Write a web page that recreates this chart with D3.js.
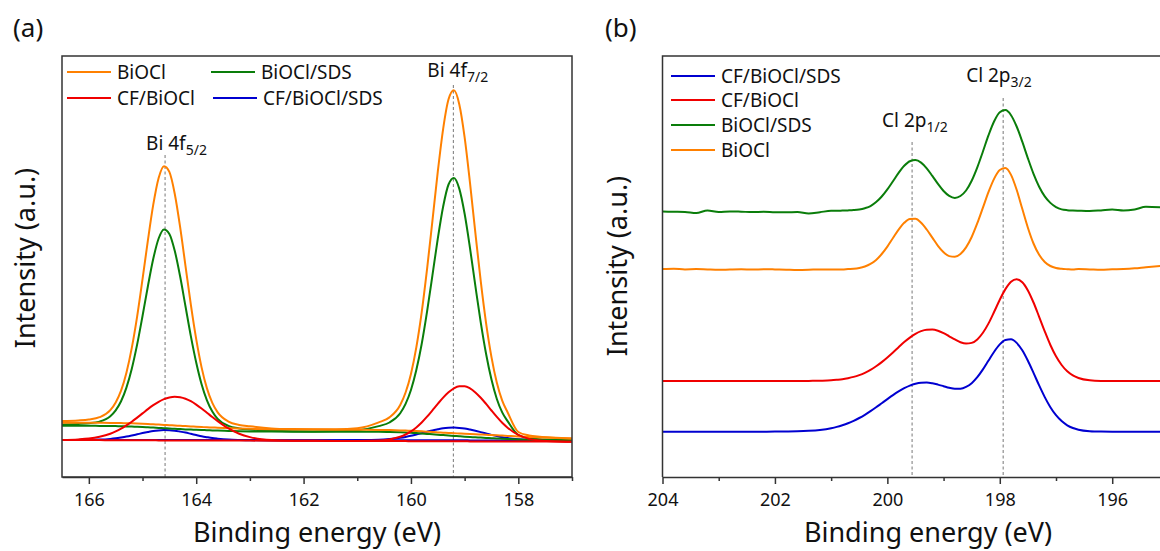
<!DOCTYPE html>
<html>
<meta charset="utf-8">
<head>
<script src="https://cdn.jsdelivr.net/npm/d3@7"></script>
<style>
  body { margin: 0; background: #fff; }
  text { font-family: "Noto Sans", "Open Sans", sans-serif; fill: #111; }
</style>
</head>
<body>
<div id="chart"></div>
<script>
// ---- panel (a): Bi 4f, binding energy grid (eV)
var energyA = [166.5, 166.2, 166.0, 165.8, 165.6, 165.5, 165.4, 165.3, 165.2, 165.1, 165.0, 164.9, 164.8, 164.7, 164.6,
  164.5, 164.4, 164.3, 164.2, 164.1, 164.0, 163.9, 163.8, 163.7, 163.6, 163.4, 163.2, 163.0, 162.6, 162.2, 161.8,
  161.4, 161.0, 160.6, 160.4, 160.2, 160.1, 160.0, 159.9, 159.8, 159.7, 159.6, 159.5, 159.4, 159.3, 159.2, 159.1,
  159.0, 158.9, 158.8, 158.7, 158.6, 158.5, 158.4, 158.3, 158.2, 158.0, 157.8, 157.6, 157.3, 157.0];

var bioclA = [56.0, 56.6, 57.5, 59.8, 66.8, 74.5, 86.3, 104.3, 129.1, 160.7, 197.8, 236.6, 272.3, 299.0, 310.8,
  305.1, 283.3, 250.1, 211.2, 172.3, 137.8, 109.6, 88.6, 74.1, 64.6, 55.4, 52.1, 50.7, 48.6, 47.9, 47.7,
  47.8, 48.8, 54.6, 59.6, 72.0, 84.5, 103.1, 129.7, 164.7, 207.9, 256.2, 305.3, 348.2, 377.7, 386.8, 372.8,
  339.6, 294.1, 244.1, 195.8, 153.7, 119.9, 94.2, 76.4, 64.8, 45.0, 41.5, 40.2, 39.3, 38.6];
var bioclBgA = [54.3, 54.3, 54.3, 54.2, 54.1, 54.0, 53.9, 53.8, 53.7, 53.5, 53.3, 53.0, 52.7, 52.4, 52.1,
  51.8, 51.5, 51.2, 50.9, 50.6, 50.3, 50.0, 49.7, 49.5, 49.3, 48.9, 48.5, 48.2, 47.8, 47.5, 47.4,
  47.3, 47.2, 47.1, 46.9, 46.6, 46.4, 46.2, 46.0, 45.7, 45.3, 44.9, 44.6, 44.3, 44.0, 43.8, 43.5,
  43.2, 43.0, 42.8, 42.5, 42.2, 42.0, 41.7, 41.4, 41.1, 40.5, 40.0, 39.5, 39.0, 38.5];

var bioclSdsA = [52.6, 53.1, 53.7, 55.4, 60.8, 66.6, 75.7, 89.4, 108.3, 132.6, 161.0, 190.8, 218.2, 238.5, 247.6,
  243.1, 226.3, 200.7, 170.8, 140.9, 114.5, 92.8, 76.7, 65.5, 58.1, 51.1, 48.6, 47.5, 46.2, 45.7, 45.6,
  45.9, 46.8, 50.9, 54.5, 63.8, 73.1, 87.0, 106.9, 133.0, 165.4, 201.6, 238.4, 270.5, 292.5, 299.1, 288.4,
  263.2, 228.9, 191.1, 154.7, 123.0, 97.4, 78.0, 64.6, 55.9, 42.0, 39.0, 37.8, 37.3, 37.1];
var bioclSdsBgA = [51.3, 51.3, 51.2, 51.1, 51.0, 50.9, 50.8, 50.6, 50.4, 50.2, 50.0, 49.7, 49.4, 49.1, 48.8,
  48.5, 48.2, 47.9, 47.6, 47.4, 47.2, 47.0, 46.8, 46.6, 46.4, 46.1, 45.8, 45.6, 45.4, 45.3, 45.3,
  45.3, 45.2, 45.2, 45.0, 44.7, 44.5, 44.2, 43.9, 43.5, 43.1, 42.7, 42.3, 41.9, 41.5, 41.1, 40.7,
  40.3, 40.0, 39.7, 39.4, 39.1, 38.8, 38.5, 38.3, 38.1, 37.6, 37.3, 37.1, 37.0, 37.0];

var cfBioclA = [37.1, 37.6, 38.4, 40.2, 43.3, 45.6, 48.4, 51.7, 55.3, 59.4, 63.6, 67.9, 71.8, 75.2, 77.9,
  79.6, 80.3, 79.8, 78.3, 75.8, 72.4, 68.5, 64.3, 60.0, 55.9, 48.6, 43.3, 39.9, 37.0, 36.3, 36.2,
  36.1, 36.0, 36.4, 37.6, 40.2, 42.5, 45.6, 49.6, 54.5, 60.3, 66.7, 73.2, 79.4, 84.7, 88.7, 90.7,
  90.7, 88.6, 84.6, 79.3, 73.1, 66.5, 60.1, 54.2, 49.3, 42.1, 38.1, 36.4, 35.5, 35.3];
var cfBioclBgA = [37.0, 36.9, 36.9, 36.9, 36.8, 36.8, 36.8, 36.8, 36.7, 36.7, 36.7, 36.7, 36.7, 36.6, 36.6,
  36.6, 36.6, 36.6, 36.6, 36.6, 36.5, 36.5, 36.5, 36.5, 36.5, 36.4, 36.4, 36.4, 36.3, 36.2, 36.2,
  36.1, 36.0, 35.9, 35.9, 35.9, 35.9, 35.8, 35.8, 35.8, 35.8, 35.8, 35.7, 35.7, 35.7, 35.7, 35.7,
  35.7, 35.6, 35.6, 35.6, 35.6, 35.6, 35.6, 35.5, 35.5, 35.5, 35.4, 35.4, 35.4, 35.3];

var cfBioclSdsA = [37.0, 37.1, 37.2, 37.4, 38.1, 38.7, 39.5, 40.4, 41.5, 42.7, 43.9, 45.0, 46.0, 46.6, 46.9,
  46.8, 46.3, 45.4, 44.4, 43.2, 42.0, 40.8, 39.8, 38.9, 38.3, 37.4, 37.0, 36.8, 36.8, 36.8, 36.8,
  36.8, 36.9, 37.2, 37.9, 39.2, 40.1, 41.2, 42.5, 43.8, 45.2, 46.6, 47.7, 48.7, 49.2, 49.4, 49.1,
  48.5, 47.4, 46.2, 44.9, 43.5, 42.1, 40.9, 39.8, 38.9, 37.7, 37.1, 36.8, 36.5, 36.5];
var cfBioclSdsBgA = [37.0, 37.0, 37.0, 37.0, 37.0, 37.0, 37.0, 37.0, 37.0, 37.0, 37.0, 36.9, 36.9, 36.9, 36.9,
  36.9, 36.9, 36.9, 36.9, 36.9, 36.9, 36.9, 36.9, 36.9, 36.9, 36.9, 36.9, 36.9, 36.8, 36.8, 36.8,
  36.8, 36.8, 36.7, 36.7, 36.7, 36.7, 36.7, 36.7, 36.7, 36.7, 36.7, 36.7, 36.7, 36.7, 36.7, 36.7,
  36.7, 36.6, 36.6, 36.6, 36.6, 36.6, 36.6, 36.6, 36.6, 36.6, 36.5, 36.5, 36.5, 36.5];

// ---- panel (b): Cl 2p, stacked spectra
var energyB = [204.0, 203.8, 203.6, 203.4, 203.2, 203.0, 202.8, 202.6, 202.4, 202.2, 202.0, 201.8, 201.6, 201.4, 201.2, 201.0,
  200.9, 200.8, 200.7, 200.6, 200.5, 200.4, 200.3, 200.2, 200.1, 200.0,
  199.9, 199.8, 199.7, 199.6, 199.5, 199.4, 199.3, 199.2, 199.1, 199.0,
  198.9, 198.8, 198.7, 198.6, 198.5, 198.4, 198.3, 198.2, 198.1, 198.0,
  197.9, 197.8, 197.7, 197.6, 197.5, 197.4, 197.3, 197.2, 197.1, 197.0,
  196.9, 196.8, 196.7, 196.6, 196.4, 196.2, 196.0, 195.8, 195.6, 195.4, 195.1];

var bioclSdsB = [265.4, 265.2, 265.0, 264.0, 266.6, 265.0, 265.6, 265.3, 264.9, 265.2, 264.8, 264.7, 265.0, 263.5, 264.8, 266.2,
  266.2, 266.4, 266.6, 266.9, 267.5, 268.8, 270.9, 274.9, 280.5, 287.6,
  295.8, 304.1, 311.2, 315.8, 316.9, 314.4, 308.7, 301.1, 293.1, 286.0,
  281.1, 279.1, 281.0, 286.5, 296.3, 309.7, 325.5, 341.8, 355.7, 364.7,
  366.9, 361.8, 350.5, 335.3, 318.7, 303.2, 290.3, 280.6, 274.1, 269.9,
  267.6, 266.8, 266.5, 266.3, 266.0, 266.6, 267.4, 266.4, 267.5, 270.2, 269.5];
var bioclB = [207.9, 208.3, 207.6, 207.9, 207.5, 207.2, 207.5, 207.7, 207.4, 207.8, 207.6, 207.3, 207.0, 207.2, 207.6, 207.4,
  207.6, 207.5, 207.9, 208.2, 209.0, 210.5, 213.1, 217.1, 223.0, 230.4,
  239.0, 247.4, 254.2, 258.1, 258.2, 254.3, 247.5, 239.4, 231.2, 224.8,
  220.9, 220.2, 223.0, 229.6, 240.0, 253.8, 269.4, 285.1, 298.4, 307.0,
  309.0, 302.1, 287.2, 268.2, 249.3, 233.5, 222.2, 215.0, 211.0, 209.0,
  208.2, 207.8, 207.5, 207.9, 207.6, 207.3, 207.7, 208.0, 208.7, 209.8, 211.2];
var cfBioclB = [96.0, 96.0, 96.0, 96.0, 96.0, 96.0, 96.0, 96.0, 96.0, 96.0, 96.0, 96.0, 96.0, 96.1, 96.3, 96.7,
  97.2, 97.8, 98.8, 100.1, 101.9, 104.2, 107.1, 110.7, 114.9, 119.6,
  124.6, 129.8, 134.9, 139.4, 143.2, 145.9, 147.3, 147.4, 146.2, 143.8,
  140.7, 137.6, 134.8, 133.4, 134.1, 137.6, 144.2, 153.6, 165.2, 177.3,
  187.9, 195.3, 197.8, 194.8, 186.6, 174.5, 160.2, 145.6, 132.0, 120.7,
  112.0, 105.7, 101.6, 99.0, 96.7, 96.1, 96.0, 96.0, 96.0, 96.0, 96.0];
var cfBioclSdsB = [45.3, 45.3, 45.3, 45.3, 45.3, 45.3, 45.3, 45.3, 45.3, 45.3, 45.4, 45.5, 45.7, 46.2, 47.1, 48.8,
  50.1, 51.8, 53.8, 56.2, 59.0, 62.2, 65.8, 69.7, 73.8, 77.9,
  81.9, 85.6, 88.8, 91.4, 93.2, 94.2, 94.4, 93.7, 92.4, 90.8,
  89.2, 88.2, 88.3, 90.1, 93.8, 99.8, 107.6, 116.5, 125.3, 132.6,
  137.1, 137.7, 134.1, 126.7, 116.2, 104.1, 91.6, 79.9, 69.8, 61.8,
  55.9, 51.7, 49.0, 47.3, 45.8, 45.4, 45.3, 45.3, 45.3, 45.3, 45.3];

var ticksA = [166, 164, 162, 160, 158];
var minorA = [165, 163, 161, 159, 157];
var ticksB = [204, 202, 200, 198, 196];
var minorB = [203, 201, 199, 197, 195];

var peakLinesA = [164.58, 159.21];
var peakLinesB = [199.56, 197.94];

var colors = { biocl: "#ff8000", bioclSds: "#0a7d0a", cfBiocl: "#f00000", cfBioclSds: "#0000d0" };

var svg = d3.select("#chart").append("svg")
  .attr("width", 1160)
  .attr("height", 551)
  .style("background", "#fff");

var plotTop = 56, plotBottom = 477;
var y = d3.scaleLinear().domain([0, 421]).range([plotBottom, plotTop]);
var xA = d3.scaleLinear().domain([166.5, 157.0]).range([62, 572]);
var xB = d3.scaleLinear().domain([204, 195.15]).range([662.5, 1160]);

var defs = svg.append("defs");
defs.append("clipPath").attr("id", "clipA").append("rect")
  .attr("x", 62).attr("y", plotTop).attr("width", 510).attr("height", plotBottom - plotTop);
defs.append("clipPath").attr("id", "clipB").append("rect")
  .attr("x", 662.5).attr("y", plotTop).attr("width", 500).attr("height", plotBottom - plotTop);

function drawAxis(x, majors, minors) {
  var g = svg.append("g").attr("transform", "translate(0," + plotBottom + ")");
  g.call(d3.axisBottom(x).tickValues(majors).tickSize(7).tickSizeOuter(0).tickPadding(9)
    .tickFormat(d3.format("d")));
  g.select(".domain").attr("stroke", "#333").attr("stroke-width", 1.5);
  g.selectAll(".tick line").attr("stroke", "#333").attr("stroke-width", 1.5);
  g.selectAll(".tick text").style("font-size", "18px").style("font-family", "Noto Sans").attr("fill", "#111");
  var m = svg.append("g").attr("transform", "translate(0," + plotBottom + ")");
  m.call(d3.axisBottom(x).tickValues(minors).tickSize(4).tickSizeOuter(0).tickFormat(""));
  m.select(".domain").remove();
  m.selectAll(".tick line").attr("stroke", "#333").attr("stroke-width", 1.5);
}

function drawCurves(x, energy, series, clip) {
  var line = d3.line()
    .x(function(d, i) { return x(energy[i]); })
    .y(function(d) { return y(d); })
    .curve(d3.curveMonotoneX);
  svg.append("g").attr("clip-path", "url(#" + clip + ")")
    .selectAll("path")
    .data(series)
    .enter()
    .append("path")
    .attr("d", function(s) { return line(s.values); })
    .attr("fill", "none")
    .attr("stroke", function(s) { return s.color; })
    .attr("stroke-width", 2)
    .attr("stroke-linejoin", "round");
}

function dashed(x, energies, tops) {
  svg.append("g").selectAll("line")
    .data(energies)
    .enter()
    .append("line")
    .attr("x1", function(d) { return x(d); })
    .attr("x2", function(d) { return x(d); })
    .attr("y1", function(d, i) { return tops[i]; })
    .attr("y2", plotBottom)
    .attr("stroke", "#777")
    .attr("stroke-width", 1)
    .attr("stroke-dasharray", "3,2.5");
}

function subLabel(xpos, ypos, main, sub) {
  var t = svg.append("text").attr("x", xpos).attr("y", ypos).style("font-size", "19px");
  t.append("tspan").text(main);
  t.append("tspan").attr("dy", 5).style("font-size", "14px").text(sub);
}

function legend(items) {
  items.forEach(function(d) {
    svg.append("line")
      .attr("x1", d.x).attr("x2", d.x + 44)
      .attr("y1", d.y).attr("y2", d.y)
      .attr("stroke", d.color).attr("stroke-width", 2);
    svg.append("text")
      .attr("x", d.x + 50).attr("y", d.y + 6.5)
      .style("font-size", "19px")
      .text(d.name);
  });
}

// ---------- panel (a)
dashed(xA, peakLinesA, [155, 85]);
drawCurves(xA, energyA, [
  { color: colors.cfBioclSds, values: cfBioclSdsBgA },
  { color: colors.cfBioclSds, values: cfBioclSdsA },
  { color: colors.bioclSds, values: bioclSdsBgA },
  { color: colors.bioclSds, values: bioclSdsA },
  { color: colors.biocl, values: bioclBgA },
  { color: colors.biocl, values: bioclA },
  { color: colors.cfBiocl, values: cfBioclBgA },
  { color: colors.cfBiocl, values: cfBioclA }
], "clipA");
drawAxis(xA, ticksA, minorA);
svg.append("rect")
  .attr("x", 62).attr("y", plotTop).attr("width", 510).attr("height", plotBottom - plotTop)
  .attr("fill", "none").attr("stroke", "#333").attr("stroke-width", 1.5);

legend([
  { name: "BiOCl", color: colors.biocl, x: 67, y: 72 },
  { name: "BiOCl/SDS", color: colors.bioclSds, x: 211, y: 72 },
  { name: "CF/BiOCl", color: colors.cfBiocl, x: 67, y: 98 },
  { name: "CF/BiOCl/SDS", color: colors.cfBioclSds, x: 213, y: 98 }
]);
subLabel(xA(peakLinesA[0]) - 19, 150, "Bi 4f", "5/2");
subLabel(xA(peakLinesA[1]) - 26, 77, "Bi 4f", "7/2");

svg.append("text").attr("x", 13).attr("y", 37).style("font-size", "26px").text("(a)");
svg.append("text")
  .attr("transform", "translate(35,258) rotate(-90)")
  .attr("text-anchor", "middle")
  .style("font-size", "27px")
  .text("Intensity (a.u.)");
svg.append("text")
  .attr("x", 317).attr("y", 542)
  .attr("text-anchor", "middle")
  .style("font-size", "27px")
  .text("Binding energy (eV)");

// ---------- panel (b)
dashed(xB, peakLinesB, [142, 98]);
drawCurves(xB, energyB, [
  { color: colors.cfBioclSds, values: cfBioclSdsB },
  { color: colors.cfBiocl, values: cfBioclB },
  { color: colors.bioclSds, values: bioclSdsB },
  { color: colors.biocl, values: bioclB }
], "clipB");
drawAxis(xB, ticksB, minorB);
svg.append("path")
  .attr("d", "M1162," + plotTop + "H662.5V" + plotBottom)
  .attr("fill", "none").attr("stroke", "#333").attr("stroke-width", 1.5);

legend([
  { name: "CF/BiOCl/SDS", color: colors.cfBioclSds, x: 671, y: 76 },
  { name: "CF/BiOCl", color: colors.cfBiocl, x: 671, y: 100 },
  { name: "BiOCl/SDS", color: colors.bioclSds, x: 671, y: 125 },
  { name: "BiOCl", color: colors.biocl, x: 671, y: 150 }
]);
subLabel(xB(peakLinesB[0]) - 30, 127, "Cl 2p", "1/2");
subLabel(xB(peakLinesB[1]) - 37, 82, "Cl 2p", "3/2");

svg.append("text").attr("x", 605).attr("y", 37).style("font-size", "26px").text("(b)");
svg.append("text")
  .attr("transform", "translate(627,266) rotate(-90)")
  .attr("text-anchor", "middle")
  .style("font-size", "27px")
  .text("Intensity (a.u.)");
svg.append("text")
  .attr("x", 928).attr("y", 542)
  .attr("text-anchor", "middle")
  .style("font-size", "27px")
  .text("Binding energy (eV)");
</script>
</body>
</html>
